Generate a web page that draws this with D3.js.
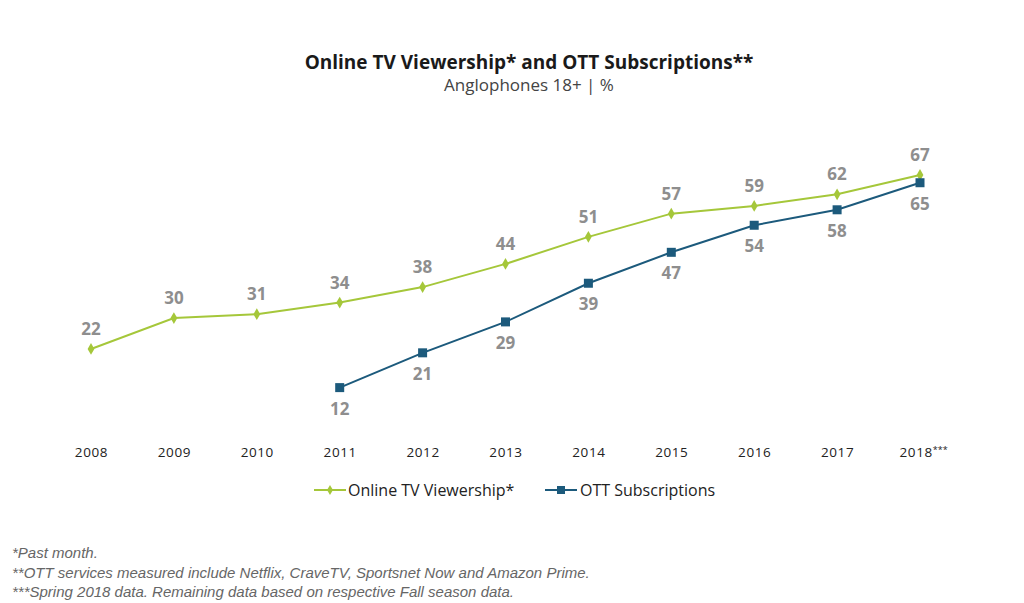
<!DOCTYPE html>
<html lang="en">
<head>
<meta charset="utf-8">
<script src="https://d3js.org/d3.v7.min.js"></script>
<style>
  body { margin: 0; background: #ffffff; }
  text { font-family: "Open Sans", Lato, sans-serif; }
</style>
</head>
<body>
<script>
  // chart data
  var years = ["2008", "2009", "2010", "2011", "2012", "2013", "2014", "2015", "2016", "2017", "2018"];
  var yearLabels = ["2008", "2009", "2010", "2011", "2012", "2013", "2014", "2015", "2016", "2017", "2018"];
  var yearNotes = ["", "", "", "", "", "", "", "", "", "", "***"];
  var viewership = [22, 30, 31, 34, 38, 44, 51, 57, 59, 62, 67];
  var ottYears = ["2011", "2012", "2013", "2014", "2015", "2016", "2017", "2018"];
  var ott = [12, 21, 29, 39, 47, 54, 58, 65];
  var footnotes = [
    "*Past month.",
    "**OTT services measured include Netflix, CraveTV, Sportsnet Now and Amazon Prime.",
    "***Spring 2018 data. Remaining data based on respective Fall season data."
  ];

  var green = "#a5c73a";
  var blue = "#1c5a7c";
  var labelGrey = "#8e8e8e";

  var svg = d3.select("body").append("svg")
    .attr("width", 1024)
    .attr("height", 603);

  var x = d3.scalePoint()
    .domain(years)
    .range([91, 920]);

  var y = d3.scaleLinear()
    .domain([0, 67])
    .range([434, 175]);

  // title
  svg.append("text")
    .attr("x", 529).attr("y", 69)
    .attr("text-anchor", "middle")
    .style("font-size", "19px")
    .style("font-weight", "bold")
    .style("fill", "#1a1a1a")
    .text("Online TV Viewership* and OTT Subscriptions**");
  svg.append("text")
    .attr("x", 529).attr("y", 91)
    .attr("text-anchor", "middle")
    .style("font-size", "17px")
    .style("fill", "#444")
    .text("Anglophones 18+ | %");

  // x axis (labels only)
  var xAxis = svg.append("g")
    .attr("transform", "translate(0,444)")
    .call(d3.axisBottom(x).tickSize(0).tickFormat(function (d, i) { return yearLabels[i]; }));
  xAxis.select(".domain").remove();
  xAxis.selectAll("text")
    .style("font-size", "13.5px")
    .style("letter-spacing", "0.6px")
    .style("fill", "#222")
    .style("font-family", "'Open Sans', sans-serif")
    .each(function (d, i) {
      if (yearNotes[i]) {
        d3.select(this).append("tspan")
          .attr("dy", "-4")
          .style("font-size", "9px")
          .style("letter-spacing", "0px")
          .text(yearNotes[i]);
        d3.select(this).attr("text-anchor", "start").attr("x", -21);
      }
    });

  var line = d3.line()
    .x(function (d) { return x(d.year); })
    .y(function (d) { return y(d.value); });

  var viewData = years.map(function (yr, i) { return { year: yr, value: viewership[i] }; });
  var ottData = ottYears.map(function (yr, i) { return { year: yr, value: ott[i] }; });

  // viewership line
  svg.append("path")
    .datum(viewData)
    .attr("d", line)
    .attr("fill", "none")
    .attr("stroke", green)
    .attr("stroke-width", 2);
  svg.append("g").selectAll("path")
    .data(viewData)
    .enter().append("path")
    .attr("d", d3.symbol().type(d3.symbolDiamond).size(40))
    .attr("transform", function (d) { return "translate(" + x(d.year) + "," + y(d.value) + ")"; })
    .attr("fill", green);
  svg.append("g").selectAll("text")
    .data(viewData)
    .enter().append("text")
    .attr("x", function (d) { return x(d.year); })
    .attr("y", function (d) { return y(d.value) - 14; })
    .attr("text-anchor", "middle")
    .style("font-size", "17px")
    .style("font-weight", "bold")
    .style("fill", labelGrey)
    .text(function (d) { return d.value; });

  // OTT line
  svg.append("path")
    .datum(ottData)
    .attr("d", line)
    .attr("fill", "none")
    .attr("stroke", blue)
    .attr("stroke-width", 2);
  svg.append("g").selectAll("rect")
    .data(ottData)
    .enter().append("rect")
    .attr("x", function (d) { return x(d.year) - 4.5; })
    .attr("y", function (d) { return y(d.value) - 4.5; })
    .attr("width", 9)
    .attr("height", 9)
    .attr("fill", blue);
  svg.append("g").selectAll("text")
    .data(ottData)
    .enter().append("text")
    .attr("x", function (d) { return x(d.year); })
    .attr("y", function (d) { return y(d.value) + 27; })
    .attr("text-anchor", "middle")
    .style("font-size", "17px")
    .style("font-weight", "bold")
    .style("fill", labelGrey)
    .text(function (d) { return d.value; });

  // legend
  var leg = svg.append("g").attr("transform", "translate(314,490)");
  leg.append("line").attr("x1", 0).attr("x2", 32).attr("stroke", green).attr("stroke-width", 2);
  leg.append("path").attr("d", d3.symbol().type(d3.symbolDiamond).size(30))
    .attr("transform", "translate(16,0)").attr("fill", green);
  leg.append("text").attr("x", 34).attr("y", 5.5).style("font-size", "16px").style("fill", "#222")
    .text("Online TV Viewership*");
  leg.append("line").attr("x1", 231).attr("x2", 263).attr("stroke", blue).attr("stroke-width", 2);
  leg.append("rect").attr("x", 243).attr("y", -4).attr("width", 8).attr("height", 8).attr("fill", blue);
  leg.append("text").attr("x", 266).attr("y", 5.5).style("font-size", "16px").style("fill", "#222")
    .text("OTT Subscriptions");

  // footnotes
  svg.append("g").selectAll("text")
    .data(footnotes)
    .enter().append("text")
    .attr("x", 12)
    .attr("y", function (d, i) { return 558 + i * 19.5; })
    .style("font-family", "'Liberation Sans', Arial, sans-serif")
    .style("font-style", "italic")
    .style("font-size", "15px")
    .style("fill", "#666")
    .text(function (d) { return d; });
</script>
</body>
</html>
